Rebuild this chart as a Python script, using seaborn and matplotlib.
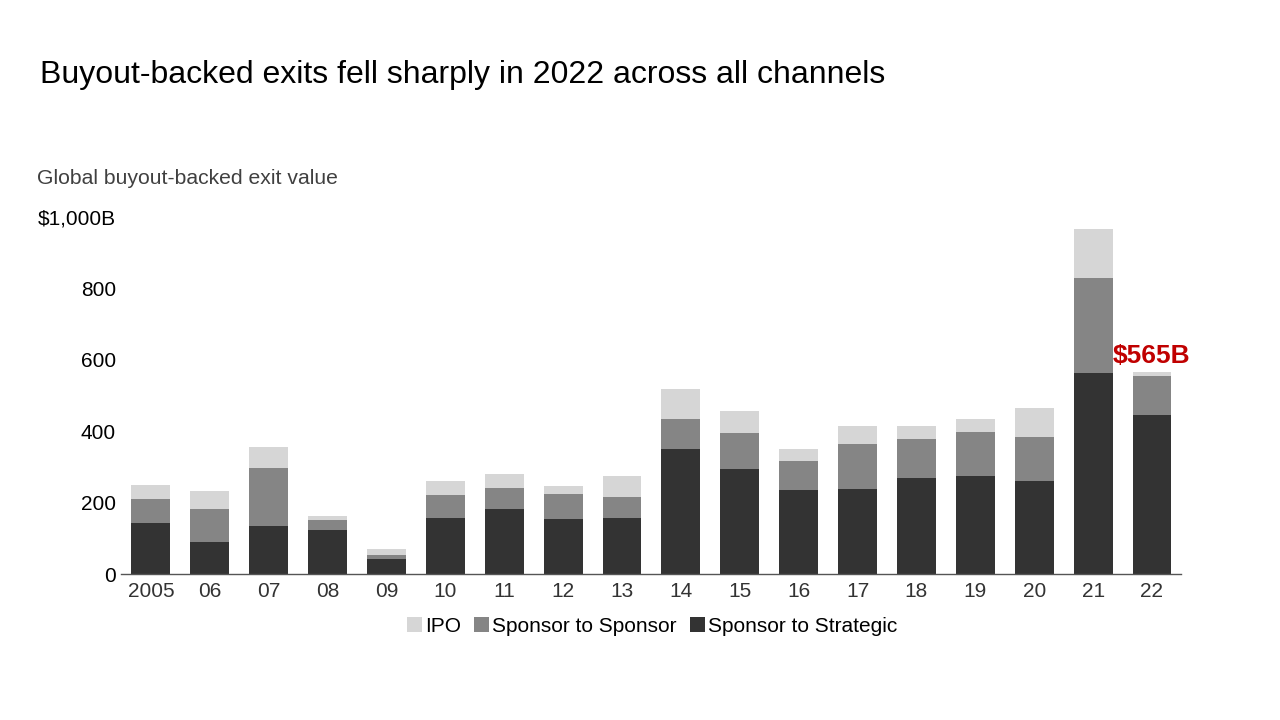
import matplotlib
matplotlib.use("Agg")
import matplotlib.pyplot as plt
from matplotlib.patches import Patch
import seaborn as sns
import numpy as np
import pandas as pd

years = ["2005", "06", "07", "08", "09", "10", "11", "12", "13", "14", "15", "16",
         "17", "18", "19", "20", "21", "22"]
strategic = [143, 90, 136, 125, 44, 158, 183, 155, 158, 351, 295, 237, 239, 270, 276, 262, 564, 445]
sponsor = [68, 93, 162, 28, 11, 65, 58, 70, 58, 83, 100, 81, 126, 108, 123, 123, 265, 111]
ipo = [39, 50, 59, 9, 16, 37, 40, 23, 60, 84, 62, 32, 49, 36, 37, 81, 137, 9]
y_ticks = [0, 200, 400, 600, 800, 1000]
y_labels = ["0", "200", "400", "600", "800", "$1,000B"]
series_names = ["IPO", "Sponsor to Sponsor", "Sponsor to Strategic"]
colors = ["#d6d6d6", "#858585", "#333333"]
callout = "$565B"

sns.set_theme(style="white")
plt.rcParams["font.family"] = ["Liberation Sans", "DejaVu Sans"]

df = pd.DataFrame({"year": years, "strategic": strategic, "sponsor": sponsor, "ipo": ipo})
df["lvl2"] = df["strategic"] + df["sponsor"]
df["total"] = df["lvl2"] + df["ipo"]

fig = plt.figure(figsize=(12.8, 7.2), dpi=100)
ax = fig.add_axes([0.0949, 0.2024, 0.8281, 0.4962])

for col, c in zip(["total", "lvl2", "strategic"], colors):
    sns.barplot(data=df, x="year", y=col, color=c, width=0.66, ax=ax,
                saturation=1, linewidth=0, errorbar=None)

ax.set_xlim(-0.5, len(years) - 0.5)
ax.set_ylim(0, 1000)
ax.set_yticks(y_ticks)
ax.set_yticklabels(y_labels, fontsize=15, color="#000000")
ax.set_xticklabels(years, fontsize=15, color="#333333")
ax.set_xlabel("")
ax.set_ylabel("")
ax.tick_params(axis="both", length=0)
ax.tick_params(axis="y", pad=4)
ax.tick_params(axis="x", pad=5.5)
for s in ["top", "right", "left"]:
    ax.spines[s].set_visible(False)
ax.spines["bottom"].set_color("#555555")
ax.spines["bottom"].set_linewidth(1.0)

ax.annotate(callout, xy=(len(years) - 1, df["total"].iloc[-1]), xytext=(0, 3),
            textcoords="offset points", ha="center", va="bottom",
            fontsize=19, fontweight="bold", color="#c00000")

fig.text(40 / 1280, 1 - 75 / 720, "Buyout-backed exits fell sharply in 2022 across all channels",
         fontsize=23, color="#000000", ha="left", va="center")
fig.text(37 / 1280, 1 - 178 / 720, "Global buyout-backed exit value",
         fontsize=15.2, color="#404040", ha="left", va="center")

handles = [Patch(facecolor=c, edgecolor="none") for c in colors]
fig.legend(handles, series_names, loc="center", bbox_to_anchor=(652 / 1280, 1 - 626 / 720),
           ncol=3, frameon=False, fontsize=15, handlelength=0.75, handleheight=0.75,
           handletextpad=0.15, columnspacing=0.6, labelcolor="#000000")

fig.savefig("out.png", dpi=100)
